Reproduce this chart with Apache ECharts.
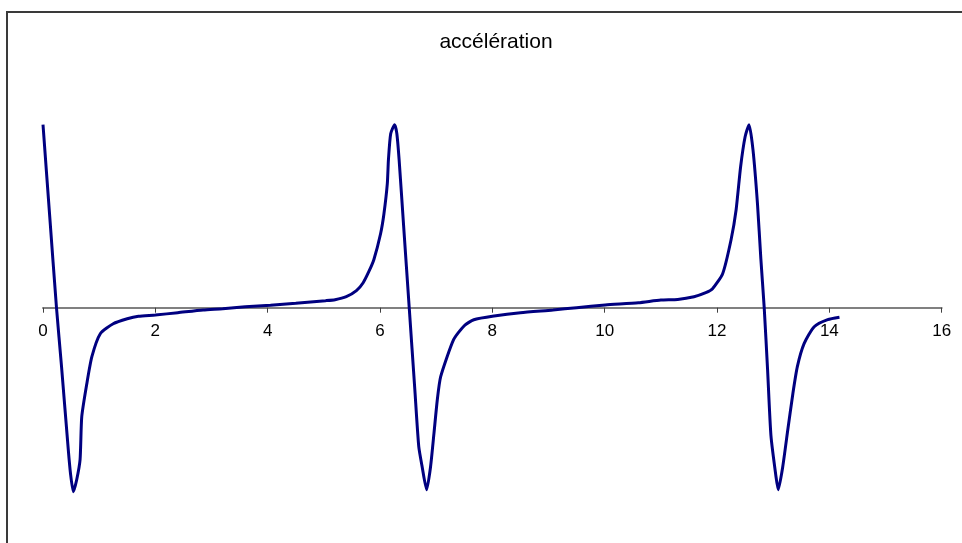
<!DOCTYPE html>
<html>
<head>
<meta charset="utf-8">
<script src="https://cdn.jsdelivr.net/npm/echarts@6/dist/echarts.min.js"></script>
<style>
  html, body { margin: 0; padding: 0; background: #ffffff; }
  #chart { width: 962px; height: 543px; }
</style>
</head>
<body>
<div id="chart"></div>
<script>
// Chart title
const chartTitle = 'accélération';

// X tick labels (0 .. 16, step 2)
const xTicks = [0, 2, 4, 6, 8, 10, 12, 14, 16];

// Y range of the plot (axis itself is hidden)
const yRange = [-20, 20];

// Sampled time values
const tValues = [
  0, 0.12, 0.24, 0.33, 0.45, 0.49, 0.54, 0.6, 0.66, 0.69, 0.78, 0.87, 1.02, 1.25, 1.5, 1.7, 2.0, 2.4, 2.85, 3.2,
  3.6, 4.05, 4.5, 5.03, 5.2, 5.4, 5.58, 5.7, 5.8, 5.89, 6.01, 6.07, 6.13, 6.15, 6.19, 6.26, 6.3, 6.34, 6.42, 6.52,
  6.62, 6.69, 6.75, 6.83, 6.9, 6.96, 7.02, 7.08, 7.31, 7.5, 7.67, 8.03, 8.5, 9.08, 9.5, 10.01, 10.6, 11.0, 11.3, 11.59,
  11.8, 11.92, 12.1, 12.25, 12.34, 12.42, 12.5, 12.57, 12.64, 12.72, 12.78, 12.84, 12.9, 12.96, 13.05, 13.09, 13.17, 13.26, 13.35, 13.43,
  13.55, 13.73, 13.97, 14.18
];

// Acceleration values at each sample
const accValues = [
  18.3, 9.1, 0, -5.9, -14.2, -16.6, -18.4, -17.2, -15.2, -10.9, -7.6, -4.9, -2.6, -1.6, -1.1, -0.85, -0.73, -0.5, -0.23, -0.1,
  0.1, 0.25, 0.45, 0.7, 0.8, 1.1, 1.7, 2.5, 3.6, 4.8, 7.4, 9.4, 12.4, 14.8, 17.4, 18.3, 17.4, 14.8, 8.2, 0,
  -8.2, -13.9, -15.9, -18.2, -15.9, -12.6, -9.2, -6.9, -3.2, -1.8, -1.2, -0.83, -0.5, -0.23, 0, 0.27, 0.5, 0.77, 0.83, 1.1,
  1.5, 1.9, 3.4, 6.8, 9.8, 14.1, 17.1, 18.3, 15.8, 10.4, 4.9, 0, -6.2, -12.8, -16.9, -18.2, -15.9, -12.2, -8.6, -5.9,
  -3.6, -1.9, -1.2, -0.96
];

const seriesData = tValues.map((t, i) => [t, accValues[i]]);

const gridTop = 107.7;
const gridHeight = 400;
// distance from the bottom of the grid up to the zero line
const zeroOffset = gridHeight * (0 - yRange[0]) / (yRange[1] - yRange[0]);

const chart = echarts.init(document.getElementById('chart'), null, { renderer: 'canvas' });

chart.setOption({
  backgroundColor: '#ffffff',
  animation: false,
  title: {
    text: chartTitle,
    left: 491,
    top: 27,
    textAlign: 'center',
    textStyle: {
      fontFamily: 'Liberation Sans',
      fontSize: 21,
      fontWeight: 'normal',
      color: '#000000'
    }
  },
  graphic: [{
    type: 'rect',
    shape: { x: 7, y: 12, width: 1000, height: 600 },
    style: { fill: 'none', stroke: '#3a3a3a', lineWidth: 2 },
    silent: true
  }],
  grid: {
    left: 43,
    right: 20.3,
    top: gridTop,
    height: gridHeight,
    containLabel: false
  },
  xAxis: {
    type: 'value',
    position: 'bottom',
    offset: -zeroOffset,
    min: xTicks[0],
    max: xTicks[xTicks.length - 1],
    interval: 2,
    axisLine: { onZero: false, lineStyle: { color: '#808080', width: 2 } },
    axisTick: { show: true, inside: false, length: 5, lineStyle: { color: '#404040', width: 1 } },
    axisLabel: {
      fontFamily: 'Liberation Sans',
      fontSize: 17,
      color: '#000000',
      margin: 15
    },
    splitLine: { show: false }
  },
  yAxis: {
    type: 'value',
    min: yRange[0],
    max: yRange[1],
    show: false,
    splitLine: { show: false }
  },
  series: [{
    type: 'line',
    data: seriesData,
    smooth: 0.2,
    showSymbol: false,
    lineStyle: { color: '#000080', width: 3 },
    itemStyle: { color: '#000080' }
  }]
});
</script>
</body>
</html>
